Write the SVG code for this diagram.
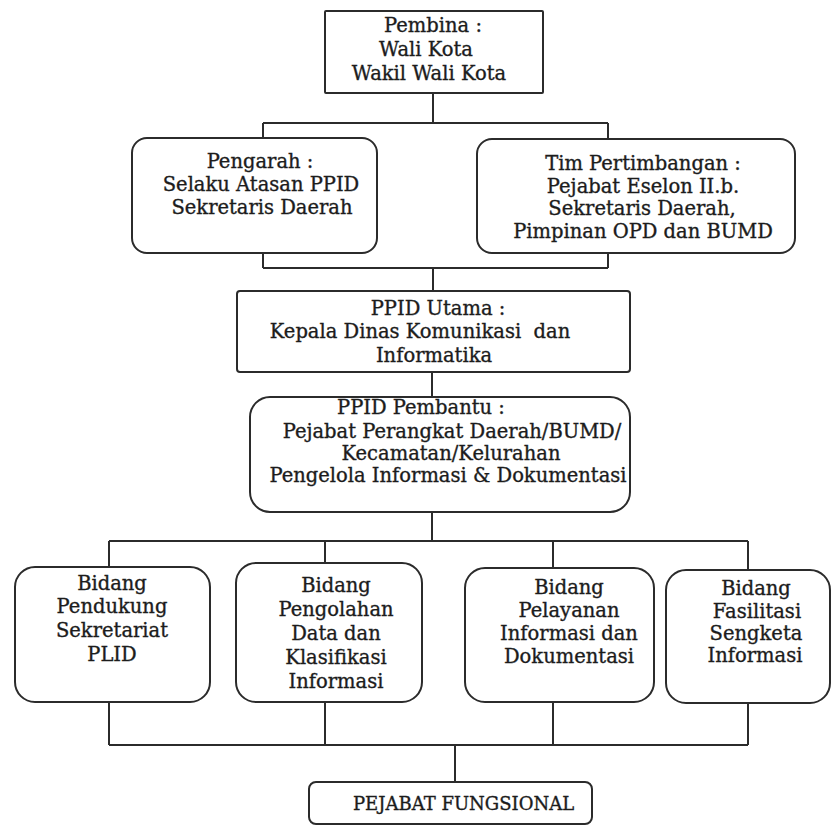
<svg xmlns="http://www.w3.org/2000/svg" width="832" height="832" viewBox="0 0 832 832">
<style>
.bg{fill:#ffffff}
.box{fill:#ffffff;stroke:#2b2b2b;stroke-width:2}
.ln{fill:none;stroke:#2b2b2b;stroke-width:2}
text{font-family:"DejaVu Serif","Liberation Serif",serif;font-size:19.5px;fill:#1c1c1c;stroke:#1c1c1c;stroke-width:0.35;text-anchor:middle}
.caps{font-size:18px;text-anchor:start}
</style>
<rect class="bg" x="0" y="0" width="832" height="832"/>
<g id="connectors">
<path class="ln" d="M433 93 V123 M263 123 H608 M263 123 V138 M608 123 V139"/>
<path class="ln" d="M263 253 V268 M608 253 V268 M263 268 H608 M433 268 V291"/>
<path class="ln" d="M432 372 V397"/>
<path class="ln" d="M432 512 V541 M109 541 H748 M109 541 V567 M325 541 V563 M553 541 V568 M748 541 V570"/>
<path class="ln" d="M109 702 V745 M325 702 V745 M553 702 V745 M748 702 V745 M109 745 H748 M455 745 V782"/>
</g>
<g id="pembina">
<rect class="box" x="325" y="11" width="218" height="82" rx="1"/>
<text x="433" y="32">Pembina :</text>
<text x="426" y="56">Wali Kota</text>
<text x="429" y="80">Wakil Wali Kota</text>
</g>
<g id="pengarah">
<rect class="box" x="132" y="138" width="245" height="115" rx="15"/>
<text x="260" y="168">Pengarah :</text>
<text x="261" y="191">Selaku Atasan PPID</text>
<text x="262" y="214">Sekretaris Daerah</text>
</g>
<g id="tim">
<rect class="box" x="477" y="139" width="318" height="114" rx="15"/>
<text x="643" y="170">Tim Pertimbangan :</text>
<text x="643" y="193">Pejabat Eselon II.b.</text>
<text x="642" y="215">Sekretaris Daerah,</text>
<text x="643" y="238">Pimpinan OPD dan BUMD</text>
</g>
<g id="ppid-utama">
<rect class="box" x="237" y="291" width="393" height="81" rx="3"/>
<text x="438" y="315">PPID Utama :</text>
<text x="420" y="338">Kepala Dinas Komunikasi&#160; dan</text>
<text x="434" y="362">Informatika</text>
</g>
<g id="ppid-pembantu">
<rect class="box" x="250" y="397" width="380" height="115" rx="20"/>
<text x="421" y="414">PPID Pembantu :</text>
<text x="452" y="438">Pejabat Perangkat Daerah/BUMD/</text>
<text x="451" y="460">Kecamatan/Kelurahan</text>
<text x="448" y="482">Pengelola Informasi &amp; Dokumentasi</text>
</g>
<g id="bidang1">
<rect class="box" x="15" y="567" width="195" height="135" rx="20"/>
<text x="112" y="590">Bidang</text>
<text x="112" y="613">Pendukung</text>
<text x="112" y="637">Sekretariat</text>
<text x="112" y="661">PLID</text>
</g>
<g id="bidang2">
<rect class="box" x="236" y="563" width="186" height="139" rx="20"/>
<text x="336" y="592">Bidang</text>
<text x="336" y="616">Pengolahan</text>
<text x="336" y="640">Data dan</text>
<text x="336" y="664">Klasifikasi</text>
<text x="336" y="688">Informasi</text>
</g>
<g id="bidang3">
<rect class="box" x="465" y="568" width="189" height="134" rx="20"/>
<text x="569" y="594">Bidang</text>
<text x="569" y="617">Pelayanan</text>
<text x="569" y="640">Informasi dan</text>
<text x="569" y="663">Dokumentasi</text>
</g>
<g id="bidang4">
<rect class="box" x="666" y="570" width="164" height="133" rx="20"/>
<text x="756" y="595">Bidang</text>
<text x="757" y="618">Fasilitasi</text>
<text x="756" y="640">Sengketa</text>
<text x="755" y="662">Informasi</text>
</g>
<g id="pejabat-fungsional">
<rect class="box" x="309" y="782" width="283" height="42" rx="7"/>
<text class="caps" x="353" y="810">PEJABAT FUNGSIONAL</text>
</g>
</svg>
